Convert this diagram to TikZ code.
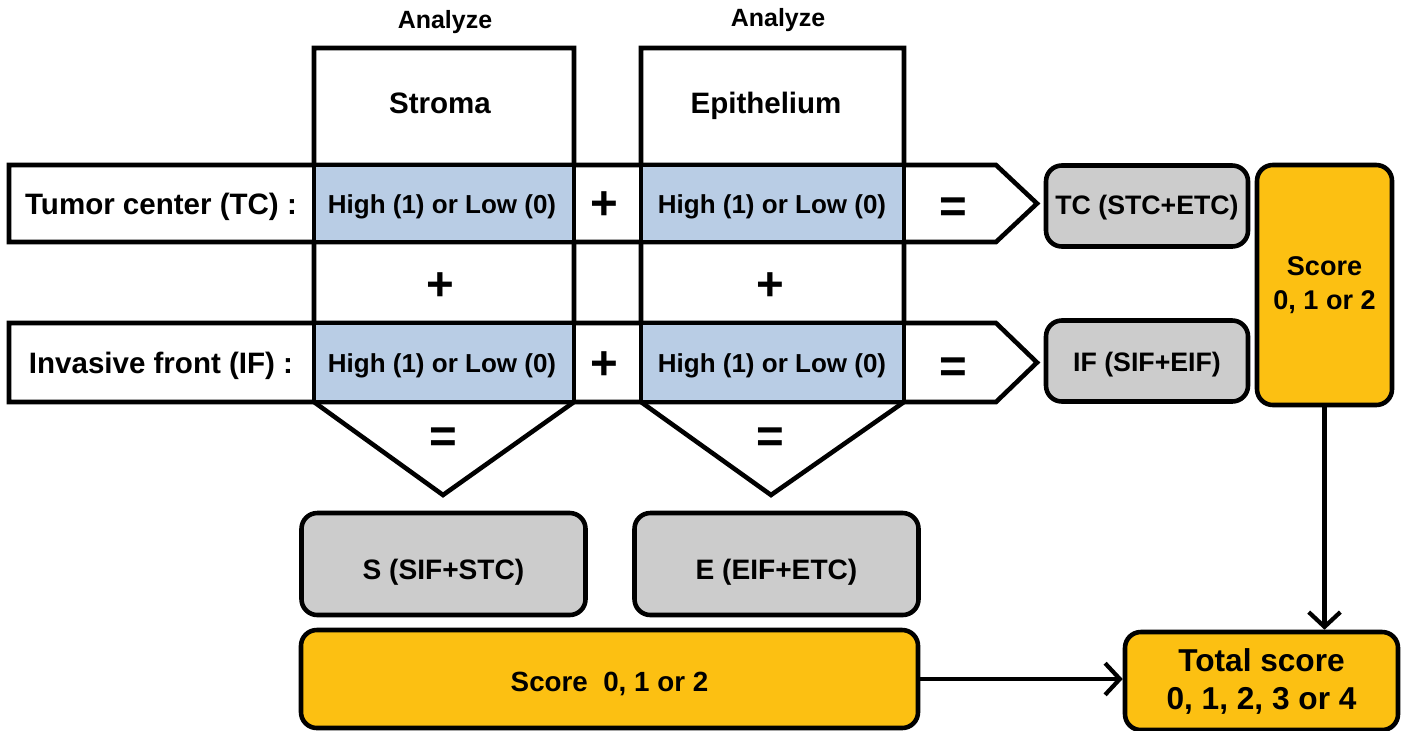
\documentclass[tikz,border=0pt]{standalone}
\usepackage{fontspec}
\setmainfont{Liberation Sans}
\usetikzlibrary{arrows.meta}
\definecolor{cellblue}{RGB}{185,205,229}
\definecolor{boxgrey}{RGB}{204,204,204}
\definecolor{scoregold}{RGB}{252,192,18}
\newcommand{\dropby}[2]{\raisebox{-#1}[\height][\depth]{#2}}

\begin{document}
\begin{tikzpicture}[line width=1.3pt,
    lbl/.style={font=\bfseries\fontsize{8.4}{10}\selectfont},
    cell/.style={font=\bfseries\fontsize{7.4}{9}\selectfont},
    sign/.style={font=\bfseries\fontsize{13.5}{13.5}\selectfont},
    rbox/.style={draw, rounded corners=4.5pt, align=center, inner sep=0pt},
    arr/.style={line width=1.2pt, -{Straight Barb[length=4.2pt,width=9pt]}}]
      \useasboundingbox (0,0) rectangle (14.01,-7.30);

      % columns
      \draw[fill=white] (3.14,-0.48) -- (5.74,-0.48) -- (5.74,-4.02) -- (4.43,-4.95) -- (3.14,-4.02) -- cycle;
      \draw[fill=white] (6.41,-0.48) -- (9.04,-0.48) -- (9.04,-4.02) -- (7.71,-4.95) -- (6.41,-4.02) -- cycle;

      % rows
      \draw[fill=white] (0.09,-1.65) -- (9.96,-1.65) -- (10.37,-2.035) -- (9.96,-2.42) -- (0.09,-2.42) -- cycle;
      \draw[fill=white] (0.09,-3.23) -- (9.96,-3.23) -- (10.37,-3.625) -- (9.96,-4.02) -- (0.09,-4.02) -- cycle;

      \draw[fill=cellblue] (3.14,-1.65) rectangle (5.74,-2.42);
      \draw[fill=cellblue] (6.41,-1.65) rectangle (9.04,-2.42);
      \draw[fill=cellblue] (3.14,-3.23) rectangle (5.74,-4.02);
      \draw[fill=cellblue] (6.41,-3.23) rectangle (9.04,-4.02);

      \node[font=\bfseries\fontsize{7.1}{9}\selectfont] (an1) at (4.45,-0.22) {Analyze};
      \node[font=\bfseries\fontsize{7.1}{9}\selectfont] (an2) at (7.78,-0.20) {Analyze};
      \node[lbl] (strm) at (4.40,-1.03) {Stroma};
      \node[lbl] (epth) at (7.66,-1.06) {Epithelium};

      \node[lbl] (tc) at (1.61,-2.07) {Tumor center (TC) :};
      \node[lbl] (if) at (1.61,-3.66) {Invasive front (IF) :};

      \node[cell] (stc) at (4.42,-2.07) {High (1) or Low (0)};
      \node[cell] (etc) at (7.72,-2.07) {High (1) or Low (0)};
      \node[cell] (sif) at (4.42,-3.66) {High (1) or Low (0)};
      \node[cell] (eif) at (7.72,-3.66) {High (1) or Low (0)};

      \node[sign] (p1) at (6.04,-2.06) {+};
      \node[sign] (p2) at (6.04,-3.66) {+};
      \node[sign] (p3) at (4.40,-2.87) {+};
      \node[sign] (p4) at (7.70,-2.87) {+};
      \node[sign] (q1) at (9.53,-2.10) {=};
      \node[sign] (q2) at (9.53,-3.70) {=};
      \node[sign] (q3) at (4.43,-4.40) {=};
      \node[sign] (q4) at (7.70,-4.40) {=};

      \node[rbox, fill=boxgrey, minimum width=2.02cm, minimum height=0.81cm,
            font=\bfseries\fontsize{7.6}{9}\selectfont] (tcs) at (11.47,-2.06) {\dropby{0.5pt}{TC (STC+ETC)}};
      \node[rbox, fill=boxgrey, minimum width=2.02cm, minimum height=0.81cm,
            font=\bfseries\fontsize{7.6}{9}\selectfont] (ifs) at (11.47,-3.61) {\dropby{1pt}{IF (SIF+EIF)}};
      \node[rbox, fill=scoregold, minimum width=1.35cm, minimum height=2.40cm,
            font=\bfseries\fontsize{7.7}{9.7}\selectfont] (sc1) at (13.245,-2.85) {Score\\0, 1 or 2};

      \node[rbox, fill=boxgrey, minimum width=2.84cm, minimum height=1.02cm,
            font=\bfseries\fontsize{8}{9}\selectfont] (ssum) at (4.435,-5.64) {\dropby{2.2pt}{S (SIF+STC)}};
      \node[rbox, fill=boxgrey, minimum width=2.84cm, minimum height=1.02cm,
            font=\bfseries\fontsize{8}{9}\selectfont] (esum) at (7.765,-5.64) {\dropby{2.2pt}{E (EIF+ETC)}};
      \node[rbox, fill=scoregold, minimum width=6.17cm, minimum height=0.98cm,
            font=\bfseries\fontsize{7.9}{9}\selectfont] (sc2) at (6.095,-6.79) {\dropby{1.4pt}{Score\ \ 0, 1 or 2}};
      \node[rbox, fill=scoregold, minimum width=2.73cm, minimum height=0.98cm,
            font=\bfseries\fontsize{9}{10.8}\selectfont] (tot) at (12.615,-6.81) {Total score\\0, 1, 2, 3 or 4};

      \draw[arr] (sc2) -- (tot.west |- sc2);
      \draw[arr] (sc1.south) -- (sc1.south |- tot.north);
    \end{tikzpicture}
\end{document}
